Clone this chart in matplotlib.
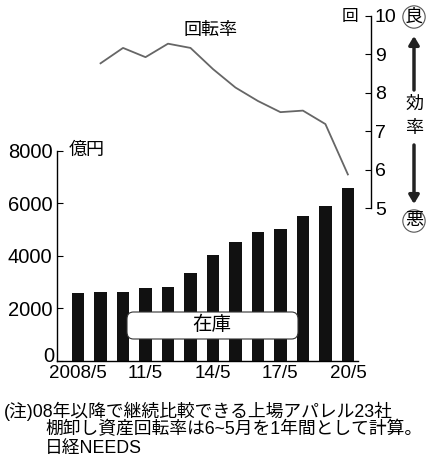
import matplotlib
matplotlib.use("Agg")
import matplotlib.pyplot as plt
from matplotlib.patches import FancyBboxPatch
from matplotlib.transforms import ScaledTranslation
import numpy as np

plt.rcParams['font.family'] = ['Liberation Sans', 'Noto Sans CJK JP', 'DejaVu Sans']

###############################################################################
#                                   Data                                      #
###############################################################################
periods = ['2008/5', '09/5', '10/5', '11/5', '12/5', '13/5', '14/5',
           '15/5', '16/5', '17/5', '18/5', '19/5', '20/5']
tick_labels = ['2008/5', '11/5', '14/5', '17/5', '20/5']
tick_index = [0, 3, 6, 9, 12]
# inventory, 100 million yen
inventory = [2570, 2630, 2620, 2770, 2820, 3330, 4040,
             4540, 4910, 5010, 5510, 5890, 6570]
# inventory turnover (times), from 2009/5 onward
turnover = [8.77, 9.17, 8.93, 9.28, 9.17, 8.62,
            8.14, 7.79, 7.50, 7.54, 7.19, 5.88]

notes = ['(注)08年以降で継続比較できる上場アパレル23社',
         '棚卸し資産回転率は6~5月を1年間として計算。',
         '日経NEEDS']

###############################################################################
#                                  Layout                                     #
###############################################################################
W, H = 428, 471
fig = plt.figure(figsize=(W / 100, H / 100), dpi=100)

def px(x0, y0, x1, y1):
    # pixel box (from top-left) -> figure fraction rect
    return [x0 / W, 1 - y1 / H, (x1 - x0) / W, (y1 - y0) / H]

x = np.arange(len(periods))

# bars: inventory
ax = fig.add_axes(px(56.7, 150.7, 358, 361))
ax.bar(x, inventory, width=0.56, color='#111111')
ax.set_xlim(-0.95, 12.45)
ax.set_ylim(0, 8000)
for s in ['top', 'right']:
    ax.spines[s].set_visible(False)
ax.spines['left'].set_linewidth(1.0)
ax.spines['bottom'].set_linewidth(1.0)
ax.set_yticks([0, 2000, 4000, 6000, 8000])
ax.tick_params(axis='y', direction='in', length=4, width=0.8, pad=3, labelsize=14.5)
ax.set_xticks(tick_index)
ax.set_xticklabels(tick_labels)
ax.tick_params(axis='x', length=0, pad=3, labelsize=13.5)

# lift the "0" label off the x tick labels, like the original
zero = ax.yaxis.get_major_ticks()[0].label1
zero.set_transform(zero.get_transform() + ScaledTranslation(0.02, 0.07, fig.dpi_scale_trans))

ax.text(0.04, 1.0, '億円', transform=ax.transAxes, ha='left', va='center', fontsize=13)

box = FancyBboxPatch((127 / W, 1 - 339 / H), 171 / W, 27 / H,
                     boxstyle='round,pad=0,rounding_size=0.015',
                     transform=fig.transFigure, fc='white', ec='#333333', lw=0.8,
                     zorder=5)
fig.add_artist(box)
fig.text(212 / W, 1 - 325 / H, '在庫', ha='center', va='center', fontsize=14, zorder=6)

# line: turnover, right axis
ax2 = fig.add_axes(px(56.7, 16, 358, 208.3))
ax2.patch.set_visible(False)
ax2.plot(x[1:], turnover, color='#666666', lw=1.3, clip_on=False)
ax2.set_xlim(ax.get_xlim())
ax2.set_ylim(5, 10)
for s in ['top', 'left', 'bottom']:
    ax2.spines[s].set_visible(False)
ax2.spines['right'].set_position(('outward', 9.1))
ax2.spines['right'].set_linewidth(1.0)
ax2.set_xticks([])
ax2.yaxis.tick_right()
ax2.set_yticks([5, 6, 7, 8, 9, 10])
ax2.tick_params(axis='y', direction='in', length=4, width=0.8, pad=3, labelsize=14)

fig.text(350 / W, 1 - 16 / H, '回', ha='center', va='center', fontsize=12)
fig.text(211 / W, 1 - 30 / H, '回転率', ha='center', va='center', fontsize=13)

# efficiency scale on the far right
circ = dict(boxstyle='circle,pad=0.12', fc='white', ec='#555555', lw=0.8)
fig.text(414 / W, 1 - 17 / H, '良', ha='center', va='center', fontsize=13, bbox=circ)
fig.text(414 / W, 1 - 221 / H, '悪', ha='center', va='center', fontsize=13, bbox=circ)
fig.text(414 / W, 1 - 104 / H, '効', ha='center', va='center', fontsize=13)
fig.text(414 / W, 1 - 129 / H, '率', ha='center', va='center', fontsize=13)
arrow = dict(arrowstyle='-|>,head_width=0.3,head_length=0.5', lw=2.5, color='#222222',
             shrinkA=0, shrinkB=0)
ax.annotate('', xy=(414, H - 36), xytext=(414, H - 90),
            xycoords='figure pixels', textcoords='figure pixels', arrowprops=arrow,
            annotation_clip=False)
ax.annotate('', xy=(414, H - 204), xytext=(414, H - 145),
            xycoords='figure pixels', textcoords='figure pixels', arrowprops=arrow,
            annotation_clip=False)

# notes
fig.text(4 / W, 1 - 411.7 / H, notes[0], ha='left', va='center', fontsize=12.8)
fig.text(45 / W, 1 - 430 / H, notes[1], ha='left', va='center', fontsize=12.8)
fig.text(45 / W, 1 - 448.5 / H, notes[2], ha='left', va='center', fontsize=12.8)

fig.savefig('out.png', dpi=100)
